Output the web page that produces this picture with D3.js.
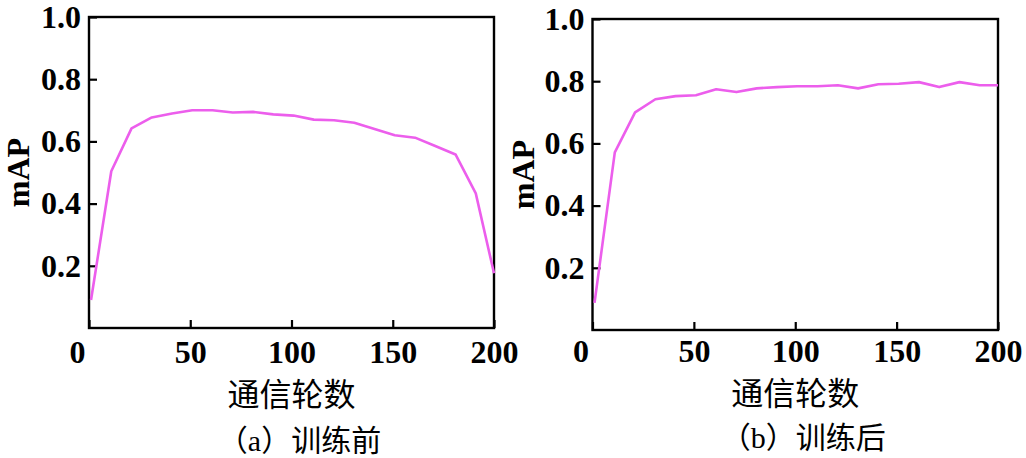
<!DOCTYPE html>
<html lang="zh">
<head>
<meta charset="UTF-8">
<script src="https://cdn.jsdelivr.net/npm/d3@7/dist/d3.min.js"></script>
<title>mAP</title>
<style>
  body { margin: 0; background: #fff; }
  svg { display: block; }
  .tick text { font-family: "Liberation Serif", "Times New Roman", serif; font-weight: bold; font-size: 32px; fill: #000; }
</style>
</head>
<body>
<div id="chart"></div>
<script>

// communication rounds (x) and mAP values
const rounds     = [1, 11, 21, 31, 41, 51, 61, 71, 81, 91, 101, 111, 121, 131, 141, 151, 161, 171, 181, 191, 200];
const mapBefore  = [0.09, 0.504, 0.642, 0.677, 0.69, 0.70, 0.70, 0.693, 0.695, 0.687, 0.683, 0.67, 0.668, 0.66, 0.64, 0.62, 0.612, 0.585, 0.558, 0.433, 0.176];
const mapAfter   = [0.087, 0.571, 0.70, 0.742, 0.752, 0.755, 0.774, 0.765, 0.777, 0.781, 0.784, 0.784, 0.787, 0.777, 0.79, 0.792, 0.797, 0.781, 0.797, 0.787, 0.787];
const xTicks     = [0, 50, 100, 150, 200];
const yTicks     = [0.2, 0.4, 0.6, 0.8, 1.0];
const captions   = ["（a）训练前", "（b）训练后"];

const width = 1026, height = 458;
const lineColour = "#ec5eec";

const svg = d3.select("#chart")
  .append("svg")
  .attr("width", width)
  .attr("height", height)
  .attr("viewBox", [0, 0, width, height]);

// panel frames in pixels
const panels = [
  { left: 89,  right: 494, top: 17, bottom: 328, values: mapBefore, titleX: 29, pad: 12, labelY: 406, capY: 451 },
  { left: 592.5, right: 998, top: 19, bottom: 330, values: mapAfter, titleX: 534, pad: 9, labelY: 405, capY: 448 }
];

panels.forEach((p, k) => {
  const x = d3.scaleLinear().domain([0, 200]).range([p.left, p.right]);
  const y = d3.scaleLinear().domain([0, 1]).range([p.bottom, p.top]);
  const g = svg.append("g");

  // x axis (ticks point inward)
  const gx = g.append("g")
    .attr("transform", `translate(0,${p.bottom})`)
    .call(d3.axisBottom(x).tickValues(xTicks).tickFormat(d3.format("d"))
      .tickSizeInner(-8).tickSizeOuter(0).tickPadding(p.pad));
  gx.selectAll(".tick text").attr("dy", "0.72em")
    .attr("dx", d => d === 0 ? -12 : 0);

  // y axis
  g.append("g")
    .attr("transform", `translate(${p.left},0)`)
    .call(d3.axisLeft(y).tickValues(yTicks).tickFormat(d3.format(".1f"))
      .tickSizeInner(-8).tickSizeOuter(0).tickPadding(8));

  g.selectAll(".domain").remove();
  g.selectAll(".tick line").attr("stroke", "#000").attr("stroke-width", 2.2);

  // frame
  g.append("rect")
    .attr("x", p.left).attr("y", p.top)
    .attr("width", p.right - p.left).attr("height", p.bottom - p.top)
    .attr("fill", "none").attr("stroke", "#000").attr("stroke-width", 2.4);

  // the curve
  g.append("path")
    .datum(rounds.map((r, i) => [r, p.values[i]]))
    .attr("fill", "none")
    .attr("stroke", lineColour)
    .attr("stroke-width", 2.6)
    .attr("stroke-linejoin", "round")
    .attr("d", d3.line().x(d => x(d[0])).y(d => y(d[1])));

  // axis titles
  g.append("text")
    .attr("transform", `translate(${p.titleX},${(p.top + p.bottom) / 2}) rotate(-90)`)
    .attr("text-anchor", "middle")
    .attr("font-family", "'Liberation Serif', 'Times New Roman', serif")
    .attr("font-weight", "bold")
    .attr("font-size", 32)
    .text("mAP");

  g.append("text")
    .attr("x", (p.left + p.right) / 2)
    .attr("y", p.labelY)
    .attr("text-anchor", "middle")
    .attr("font-family", "'Noto Sans CJK SC', sans-serif")
    .attr("font-size", 32)
    .text("通信轮数");

  g.append("text")
    .attr("x", (p.left + p.right) / 2 + 8)
    .attr("y", p.capY)
    .attr("text-anchor", "middle")
    .attr("font-family", "'Liberation Serif', 'Noto Sans CJK SC', serif")
    .attr("font-size", 30)
    .text(captions[k]);
});
</script>
</body>
</html>
